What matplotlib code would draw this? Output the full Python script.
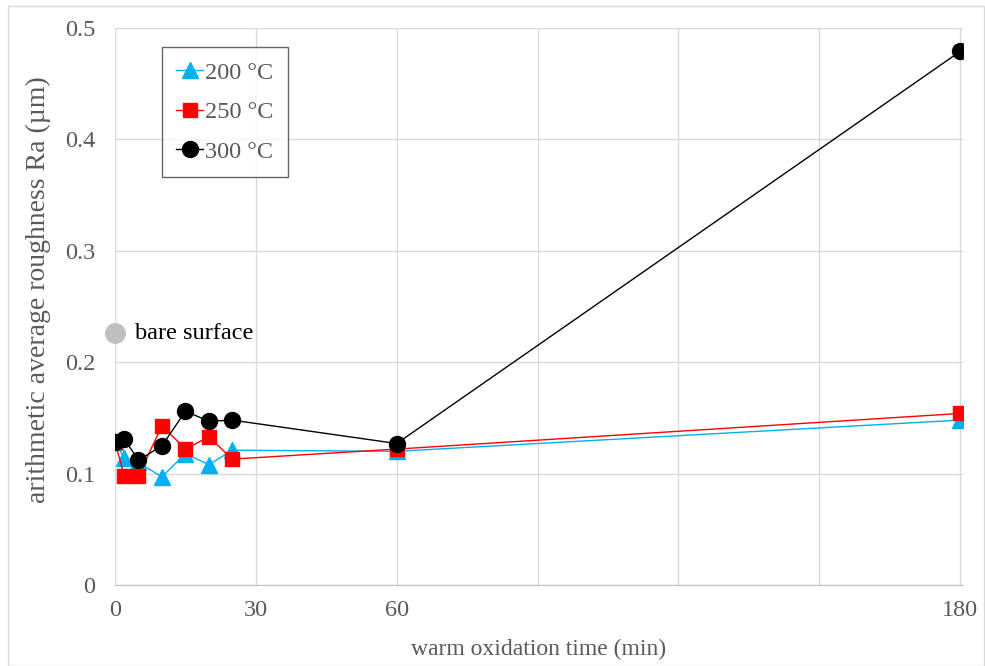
import matplotlib
matplotlib.use("Agg")
from matplotlib import pyplot as plt
from matplotlib.patches import Rectangle

# warm oxidation time (min)
t_200 = [0, 2, 5, 10, 15, 20, 25, 60, 180]
t_250 = [0, 2, 5, 10, 15, 20, 25, 60, 180]
t_300 = [0, 2, 5, 10, 15, 20, 25, 60, 180]

# Ra (um)
ra_200 = [0.128, 0.114, 0.110, 0.097, 0.118, 0.108, 0.121, 0.120, 0.148]
ra_250 = [0.128, 0.098, 0.098, 0.143, 0.122, 0.133, 0.113, 0.122, 0.154]
ra_300 = [0.128, 0.131, 0.112, 0.125, 0.156, 0.147, 0.148, 0.127, 0.479]

bare_t = 0
bare_ra = 0.226

x_ticks = [0, 30, 60, 180]
y_ticks = [0, 0.1, 0.2, 0.3, 0.4, 0.5]

plt.rcParams["font.family"] = ["Liberation Serif", "DejaVu Serif"]
gray_txt = "#595959"
fs = 17.5

fig = plt.figure(figsize=(9.85, 6.66), dpi=100)
ax = fig.add_axes([115 / 985, 1 - 585 / 666, (963 - 115) / 985, (585 - 28) / 666])

ax.plot(t_200, ra_200, color="#00B0F0", lw=1, marker="^", ms=11, label="200 °C", zorder=3)
ax.plot(t_250, ra_250, color="#FF0000", lw=1, marker="s", ms=10, label="250 °C", zorder=4)
ax.plot(t_300, ra_300, color="black", lw=1, marker="o", ms=11.5, label="300 °C", zorder=5)

ax.plot([bare_t], [bare_ra], marker="o", ms=14, color="#BFBFBF", ls="none", clip_on=False, zorder=6)
ax.text(bare_t + 4.2, bare_ra, "bare surface", fontsize=fs, va="center", ha="left", color="black")

ax.set_xlim(0, 180.6)
ax.set_ylim(0, 0.5)
ax.set_xticks(range(0, 181, 30))
ax.set_xticklabels([str(v) if v in x_ticks else "" for v in range(0, 181, 30)])
ax.set_yticks(y_ticks)
ax.set_yticklabels(["0", "0.1", "0.2", "0.3", "0.4", "0.5"])
ax.tick_params(axis="x", length=0, labelsize=fs, colors=gray_txt, pad=11)
ax.tick_params(axis="y", length=0, labelsize=fs, colors=gray_txt, pad=14)
ax.grid(True, color="#D9D9D9", lw=1)
ax.set_axisbelow(True)
for s in ["top", "right", "left"]:
    ax.spines[s].set_visible(False)
ax.spines["bottom"].set_color("#BFBFBF")

ax.set_xlabel("warm oxidation time (min)", fontsize=17, color=gray_txt, labelpad=13)
ax.set_ylabel("arithmetic average roughness Ra (\u00b5m)", fontsize=20, color=gray_txt)
ax.yaxis.set_label_coords(-0.076, 0.53)

leg = ax.legend(loc="upper left", bbox_to_anchor=(0.055, 0.966), fontsize=fs, frameon=True,
                fancybox=False, edgecolor="#404040", handlelength=1.1, handletextpad=0.1,
                borderpad=0.6, labelspacing=0.72, borderaxespad=0)
leg.get_frame().set_linewidth(1)
for t in leg.get_texts():
    t.set_color(gray_txt)

fig.patches.append(Rectangle((8 / 985, 0), 976 / 985, 1 - 6 / 666, transform=fig.transFigure,
                             fill=False, edgecolor="#D9D9D9", lw=1))

fig.savefig("out.png", dpi=100)
